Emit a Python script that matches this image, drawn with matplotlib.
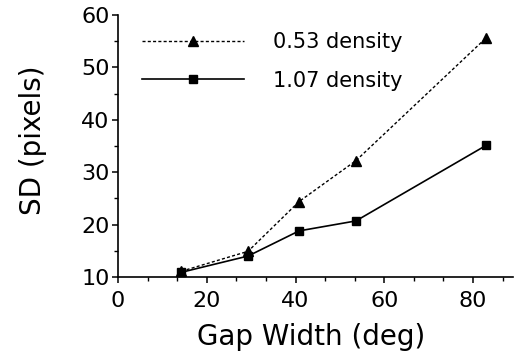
import numpy as np
import matplotlib.pyplot as plt
from matplotlib.ticker import MultipleLocator

plt.rcParams['font.family'] = ['DejaVu Sans']

# Gap width (deg) and SD (pixels)
gap_width = [14.3, 29.3, 40.8, 53.6, 82.9]
sd_053 = [11.1, 14.9, 24.4, 32.2, 55.6]
sd_107 = [10.9, 14.0, 18.8, 20.7, 35.1]

fig = plt.figure(figsize=(5.14, 3.57), dpi=100)
ax = fig.add_axes([0.2296, 0.2241, 0.7685, 0.7339])

ax.plot(gap_width, sd_053, color='black', linestyle=(0, (2.2, 1.6)), linewidth=1.0,
        marker='^', markersize=7.5, label='0.53 density')
ax.plot(gap_width, sd_107, color='black', linestyle='-', linewidth=1.2,
        marker='s', markersize=6, label='1.07 density')

ax.set_xlim(0, 89)
ax.set_ylim(10, 60)
ax.xaxis.set_major_locator(MultipleLocator(20))
ax.xaxis.set_minor_locator(MultipleLocator(20 / 3))
ax.yaxis.set_major_locator(MultipleLocator(10))
ax.yaxis.set_minor_locator(MultipleLocator(5))

for s in ['top', 'right']:
    ax.spines[s].set_visible(False)
for s in ['left', 'bottom']:
    ax.spines[s].set_linewidth(1.2)

ax.tick_params(which='major', direction='out', length=4, width=1.1, labelsize=16)
ax.tick_params(which='minor', direction='out', length=3, width=1.0)
ax.tick_params(axis='x', pad=6)
ax.tick_params(axis='y', pad=2)

ax.set_xlabel('Gap Width (deg)', fontsize=20)
ax.set_ylabel('SD (pixels)', fontsize=20)
ax.xaxis.set_label_coords(0.489, -0.176)
ax.yaxis.set_label_coords(-0.18, 0.521)

leg = ax.legend(loc='upper left', bbox_to_anchor=(0.013, 1.006), frameon=False,
                fontsize=15, handlelength=4.9, handletextpad=1.4,
                labelspacing=0.88, markerscale=1.0)

fig.savefig('out.png', dpi=100)
